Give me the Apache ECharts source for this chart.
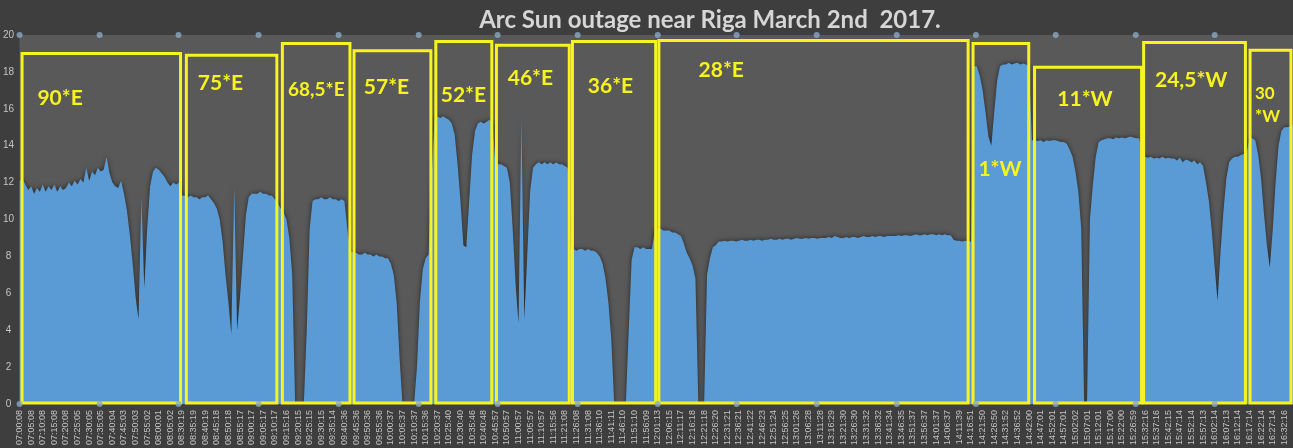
<!DOCTYPE html>
<html><head><meta charset="utf-8">
<script src="https://cdn.jsdelivr.net/npm/echarts@6/dist/echarts.min.js"></script>
<style>html,body{margin:0;padding:0;background:#3e3e3e;overflow:hidden}#c{width:1293px;height:448px}</style>
</head><body><div id="c"></div>
<script>
const chartTitle = 'Arc Sun outage near Riga March 2nd  2017.';
const timeLabels = ['07:00:08','07:05:08','07:10:08','07:15:08','07:20:08','07:25:05','07:30:05','07:35:05','07:40:04','07:45:03',
'07:50:03','07:55:02','08:00:01','08:05:02','08:30:19','08:35:19','08:40:19','08:45:18','08:50:18','08:55:17',
'09:00:17','09:05:17','09:10:17','09:15:16','09:20:15','09:25:15','09:30:15','09:35:14','09:40:36','09:45:36',
'09:50:36','09:55:36','10:00:37','10:05:37','10:10:37','10:15:36','10:20:37','10:25:40','10:30:40','10:35:46',
'10:40:48','10:45:57','10:50:57','11:00:57','11:05:57','11:10:57','11:15:56','11:21:08','11:26:08','11:31:08',
'11:36:10','11:41:11','11:46:10','11:51:10','11:56:09','12:01:13','12:06:15','12:11:17','12:16:18','12:21:18',
'12:26:20','12:31:21','12:36:21','12:41:22','12:46:23','12:51:24','12:56:25','13:01:26','13:06:28','13:11:28',
'13:16:29','13:21:30','13:26:30','13:31:32','13:36:32','13:41:34','13:46:35','13:51:37','13:56:37','14:01:37',
'14:06:37','14:11:39','14:16:51','14:21:50','14:26:50','14:31:52','14:36:52','14:42:00','14:47:01','14:52:01',
'14:57:01','15:02:02','15:07:01','15:12:01','15:17:00','15:22:00','15:26:59','15:32:16','15:37:16','15:42:15',
'15:47:14','15:52:14','15:57:13','16:02:14','16:07:13','16:12:14','16:17:14','16:22:14','16:27:14','16:32:16'];
const samplesPerLabel = 4;
const signalLevel = [
12.1,12.2,11.9,11.6,11.8,11.4,11.7,11.5,11.9,11.5,
11.8,11.6,11.9,11.5,11.8,11.6,11.7,12.0,11.8,12.1,
11.9,12.2,12.0,12.8,12.1,12.6,12.4,12.8,12.6,12.7,
13.4,12.5,12.0,11.8,11.7,12.1,11.4,10.5,9.2,7.6,
5.8,4.6,11.1,6.3,9.5,11.8,12.6,12.8,12.7,12.5,
12.3,12.0,11.8,12.0,11.9,12.0,11.3,11.3,11.2,11.3,
11.2,11.2,11.1,11.2,11.2,11.3,11.1,10.9,10.6,10.0,
8.8,7.0,5.5,3.8,11.8,4.0,5.8,8.0,10.2,11.2,
11.4,11.4,11.4,11.5,11.4,11.4,11.3,11.3,11.1,10.9,
10.6,10.4,10.0,9.0,7.0,0,0,0,0,4.0,
9.5,11.0,11.1,11.1,11.2,11.1,11.1,11.2,11.1,11.1,
11.0,11.1,11.0,9.5,8.3,8.2,8.2,8.1,8.1,8.2,
8.1,8.1,8.0,8.1,8.0,8.0,7.9,7.9,7.6,7.0,
5.5,2.5,0,0,0,0,0,2.0,5.5,7.3,
7.9,8.1,12.0,15.4,15.6,15.5,15.6,15.5,15.4,15.2,
14.6,13.0,11.0,8.6,8.5,11.0,13.5,14.8,15.2,15.3,
15.2,15.3,15.4,15.3,13.1,13.0,13.0,12.9,12.8,12.0,
9.5,6.5,4.4,15.4,4.6,8.0,11.5,12.8,13.0,13.1,
13.0,13.1,13.0,13.1,13.0,13.1,13.0,13.0,12.9,12.8,
8.4,8.4,8.3,8.4,8.4,8.3,8.4,8.3,8.3,8.2,
8.0,7.6,6.8,5.5,3.5,0,0,0,0,0,
4.0,7.8,8.5,8.5,8.4,8.5,8.4,8.4,8.4,9.4,
9.5,9.5,9.4,9.4,9.4,9.3,9.3,9.2,9.1,8.7,
8.2,7.9,7.5,6.8,0,0,0,7.0,7.9,8.5,
8.6,8.8,8.8,8.85,8.8,8.85,8.85,8.8,8.85,8.9,
8.85,8.85,8.9,8.85,8.9,8.9,8.85,8.9,8.9,8.95,
8.9,8.9,8.95,8.9,8.95,8.95,8.9,8.95,9.0,8.95,
8.95,9.0,8.95,9.0,9.0,8.95,9.0,9.0,9.0,9.05,
9.0,9.1,9.05,9.0,9.0,9.05,9.0,9.05,9.05,9.0,
9.05,9.1,9.05,9.05,9.1,9.05,9.1,9.1,9.05,9.1,
9.1,9.1,9.1,9.15,9.1,9.15,9.15,9.1,9.15,9.2,
9.15,9.15,9.2,9.15,9.2,9.2,9.15,9.2,9.15,9.2,
9.15,9.15,8.9,8.85,8.85,8.8,8.85,8.8,8.8,18.3,
18.3,17.8,17.0,15.8,14.5,14.0,15.8,17.5,18.3,18.4,
18.4,18.5,18.4,18.45,18.5,18.4,18.45,18.4,18.3,14.3,
14.3,14.25,14.3,14.2,14.3,14.25,14.3,14.3,14.25,14.2,
14.2,14.1,13.8,13.4,12.6,11.5,9.5,0,0,10.0,
11.9,13.4,14.2,14.3,14.35,14.4,14.4,14.35,14.45,14.4,
14.45,14.4,14.45,14.5,14.45,14.4,14.4,13.5,13.4,13.35,
13.4,13.3,13.35,13.3,13.4,13.3,13.35,13.3,13.3,13.2,
13.35,13.1,13.25,13.2,13.1,13.2,13.0,13.1,12.9,12.0,
11.0,9.4,7.4,5.6,8.2,10.4,12.2,13.1,13.3,13.4,
13.4,13.5,13.55,13.6,14.4,14.4,14.3,13.5,12.2,10.3,
8.6,7.4,9.4,12.0,14.0,14.8,15.0,15.0,15.05,15.1];
const yMin = 0, yMax = 20, yStep = 2;
// annotation boxes: sample index range and top value
const boxFrom = [0.86, 57.5, 90.6, 115.3, 143.5, 164.4, 190.6, 220.4, 328.7, 349.9, 387.5, 424.2];
const boxTo   = [55.5, 88.7, 113.9, 141.8, 162.8, 189.5, 219.3, 327.0, 347.9, 386.8, 422.6, 438.3];
const boxTop  = [19.0, 18.9, 19.54, 19.14, 19.65, 19.44, 19.65, 19.7, 19.54, 18.25, 19.6, 19.17];
const boxBottom = 0.05;
const boxText = ['90*E','75*E','68,5*E','57*E','52*E','46*E','36*E','28*E','1*W','11*W','24,5*W','30\n*W'];
const textAtIdx = [13.96, 69.26, 102.3, 126.5, 153.0, 176.1, 203.7, 241.9, 338.0, 367.3, 403.9, 425.9];
const textAtVal = [16.59, 17.39, 17.02, 17.18, 16.72, 17.63, 17.2, 18.09, 12.72, 16.5, 17.53, 16.2];
const dotIdx = [0, 27.6, 54.8, 82.4, 110, 137.6, 164.8, 192.4, 220, 247.2, 274.8, 302.4, 329.7, 357.2, 384.8, 412];

// label style overrides (style only)
const labelFontSize = {'68,5*E': 19, '30\n*W': 17};

const N = signalLevel.length;
const cats = signalLevel.map((v, i) => 's' + i);
const YEL = '#f7f320';
const chart = echarts.init(document.getElementById('c'));
const areas = boxText.map((t, k) => [{coord: [boxFrom[k], boxTop[k]]}, {coord: [boxTo[k], boxBottom]}]);
const marks = boxText.map((t, k) => {
  const multi = t.indexOf('\n') >= 0;
  const lab = multi ? {position: 'right', distance: 0, lineHeight: 23, align: 'left'} : {position: 'inside'};
  if (labelFontSize[t]) lab.fontSize = labelFontSize[t];
  return {name: t, coord: [textAtIdx[k], textAtVal[k]], symbolSize: 0, label: lab};
});
const dots = [];
dotIdx.forEach(x => { dots.push([x, yMax]); dots.push([x, yMin]); });
chart.setOption({
  animation: false,
  backgroundColor: '#3e3e3e',
  title: {
    text: chartTitle, left: 705, top: 3, textAlign: 'center',
    textStyle: {color: '#d6d6d6', fontSize: 24, fontWeight: 'bold', fontFamily: 'Lato'}
  },
  grid: {left: 19, right: 0, top: 35, bottom: 41, show: true, backgroundColor: '#595959', borderWidth: 0, containLabel: false},
  xAxis: [{
    type: 'category', data: cats, boundaryGap: false,
    axisLine: {show: false}, axisTick: {show: false}, splitLine: {show: false},
    axisLabel: {
      interval: samplesPerLabel - 1, rotate: 90, margin: 6, color: '#c4c4c4', fontSize: 9, fontFamily: 'Liberation Sans',
      formatter: (v, i) => timeLabels[Math.round(i / samplesPerLabel)] || ''
    }
  }, {
    type: 'value', min: 0, max: N - 1, show: false
  }],
  yAxis: {
    type: 'value', min: yMin, max: yMax, interval: yStep,
    axisLine: {show: false}, axisTick: {show: false}, splitLine: {show: false},
    axisLabel: {color: '#c4c4c4', fontSize: 10, fontFamily: 'Liberation Sans', align: 'center', margin: 11}
  },
  series: [{
    type: 'line', data: signalLevel, xAxisIndex: 0, showSymbol: false, symbol: 'none',
    lineStyle: {width: 0}, z: 2,
    areaStyle: {color: '#5b9bd5', opacity: 1, shadowBlur: 5, shadowColor: 'rgba(0,0,0,0.6)'}
  }, {
    type: 'scatter', xAxisIndex: 1, data: [], z: 5, silent: true, clip: false,
    markArea: {
      silent: true, z: 10,
      itemStyle: {color: 'rgba(0,0,0,0)', borderColor: YEL, borderWidth: 3},
      label: {show: false}, emphasis: {disabled: true},
      data: areas
    },
    markPoint: {
      silent: true, z: 11, symbol: 'circle', symbolSize: 0,
      itemStyle: {color: 'rgba(0,0,0,0)'},
      label: {show: true, formatter: '{b}', color: YEL, fontSize: 21, fontWeight: 'bold', fontFamily: 'Lato'},
      data: marks
    }
  }, {
    type: 'scatter', xAxisIndex: 1, data: dots, z: 12, silent: true, clip: false,
    symbolSize: 6, itemStyle: {color: '#8aa7c3'}
  }]
});
</script></body></html>
